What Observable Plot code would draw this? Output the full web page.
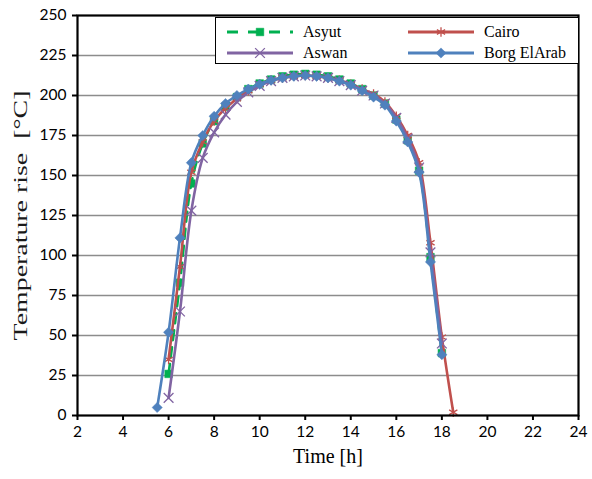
<!DOCTYPE html>
<html><head><meta charset="utf-8">
<script src="https://cdn.jsdelivr.net/npm/d3@7"></script>
<script src="https://cdn.jsdelivr.net/npm/@observablehq/plot@0.6"></script>
<style>
body{margin:0;background:#fff;}
#wrap{position:relative;width:592px;height:479px;}
#legend{position:absolute;left:215px;top:17px;width:362px;height:45px;border:1.6px solid #000;background:#fff;font-family:"Liberation Serif","Times New Roman",serif;font-size:16px;}
.item{position:absolute;display:flex;align-items:center;height:20px;}
.item span{margin-left:10px;}
</style></head>
<body><div id="wrap"><div id="chart"></div><div id="legend"></div></div>
<script>
const timesA = [6,6.5,7,7.5,8,8.5,9,9.5,10,10.5,11,11.5,12,12.5,13,13.5,14,14.5,15,15.5,16,16.5,17,17.5,18];
const timesCairo = [6,6.5,7,7.5,8,8.5,9,9.5,10,10.5,11,11.5,12,12.5,13,13.5,14,14.5,15,15.5,16,16.5,17,17.5,18,18.5];
const timesBorg = [5.5,6,6.5,7,7.5,8,8.5,9,9.5,10,10.5,11,11.5,12,12.5,13,13.5,14,14.5,15,15.5,16,16.5,17,17.5,18];
const asyut = [26,83,145,170,184,193,199,204,207.5,210,212,213,213.5,213,212,210,207.5,204,200,195,185,172,153,99,39];
const cairo = [35,93,152,171,184,192,198,203,207,209.5,211,212,212.5,212,211,209.5,207,204,201,196,187,175,158,108,49,2];
const aswan = [11,65,128,161,177,188,196,202,206,209,211,212,212.5,212,211,209,206.5,203,200,195,186,173,155,102,45];
const borg = [5,52,111,158,175,187,195,200,204,207,209.5,211,212,212.5,212,211,209,206.5,203,199,194,184,171,152,96,38];
const xTicks = [2,4,6,8,10,12,14,16,18,20,22,24];
const yTicks = [0,25,50,75,100,125,150,175,200,225,250];

const series = [
  {name:"Asyut", t:timesA, v:asyut, color:"#00B050", symbol:"square", dash:"10,7", r:4.3, fill:true},
  {name:"Cairo", t:timesCairo, v:cairo, color:"#C0504D", symbol:"asterisk", dash:null, r:4.5, fill:false},
  {name:"Aswan", t:timesA, v:aswan, color:"#8064A2", symbol:"times", dash:null, r:4.5, fill:false},
  {name:"Borg ElArab", t:timesBorg, v:borg, color:"#4F81BD", symbol:"diamond2", dash:null, r:4.6, fill:true}
];
const rows = s => s.t.map((t,i)=>({t, v:s.v[i]}));

const marks = [
  Plot.gridY(yTicks.filter(d=>d>0&&d<250), {stroke:"#8c8c8c", strokeOpacity:1, strokeWidth:1.6}),
];
for (const s of series) {
  marks.push(Plot.line(rows(s), {x:"t", y:"v", stroke:s.color, strokeWidth:2.6, curve:"catmull-rom", strokeDasharray:s.dash}));
  marks.push(Plot.dot(rows(s), s.fill
    ? {x:"t", y:"v", symbol:()=>s.symbol, r:s.r, fill:s.color, stroke:s.color, strokeWidth:0.5}
    : {x:"t", y:"v", symbol:()=>s.symbol, r:s.r, fill:"none", stroke:s.color, strokeWidth:1.3}));
}
marks.push(Plot.frame({stroke:"#000", strokeWidth:2.2}));
marks.push(Plot.axisX(xTicks, {tickSize:5, tickPadding:5, fontSize:15.5, strokeWidth:2, label:null}));
marks.push(Plot.axisY(yTicks, {tickSize:5, tickPadding:6, fontSize:15.5, strokeWidth:2, label:null}));
marks.push(Plot.text(["Time [h]"], {frameAnchor:"bottom", dy:47, fontSize:20, fontFamily:"Liberation Serif", fill:"#000", className:"xtitle"}));
marks.push(Plot.text(["Temperature rise  [\u00B0C]"], {frameAnchor:"left", textAnchor:"middle", dx:-57, rotate:-90, fontSize:19.5, fontFamily:"Liberation Serif", fill:"#1a1a1a", className:"ytitle"}));

const chart = Plot.plot({
  width:592, height:479,
  marginLeft:77, marginRight:14, marginTop:15, marginBottom:64,
  x:{domain:[2,24]}, y:{domain:[0,250]},
  style:{fontFamily:"Lato, 'Open Sans', sans-serif", color:"#000", background:"#fff"},
  symbol:{type:"identity"},
  marks
});
document.getElementById("chart").appendChild(chart);
const yt = chart.querySelector(".ytitle text");
if (yt) {
  const len = yt.getComputedTextLength();
  const sx = len > 0 ? Math.min(1.5, 250/len) : 1.3;
  yt.setAttribute("transform", (yt.getAttribute("transform")||"") + ` scale(${sx},1)`);
}

// legend
const leg = document.getElementById("legend");
const pos = [[11,4],[192,4],[11,25],[192,25]];
series.forEach((s,i)=>{
  const div = document.createElement("div");
  div.className="item";
  div.style.left=pos[i][0]+"px"; div.style.top=pos[i][1]+"px";
  const w=66,h=16;
  const svg = d3.create("svg").attr("width",w).attr("height",h);
  svg.append("line").attr("x1",0).attr("x2",w).attr("y1",h/2).attr("y2",h/2)
    .attr("stroke",s.color).attr("stroke-width",2.8).attr("stroke-dasharray", s.dash ? "11,10" : null);
  const sym = {square:d3.symbolSquare, asterisk:d3.symbolAsterisk, times:d3.symbolTimes, diamond2:d3.symbolDiamond2}[s.symbol];
  const area = Math.PI*s.r*s.r;
  svg.append("path").attr("d", d3.symbol(sym, area)()).attr("transform",`translate(${w/2},${h/2})`)
    .attr("fill", s.fill? s.color : "none").attr("stroke", s.color).attr("stroke-width", s.fill?0.5:1.3);
  div.appendChild(svg.node());
  const sp=document.createElement("span"); sp.textContent=s.name; div.appendChild(sp);
  leg.appendChild(div);
});
</script></body></html>
